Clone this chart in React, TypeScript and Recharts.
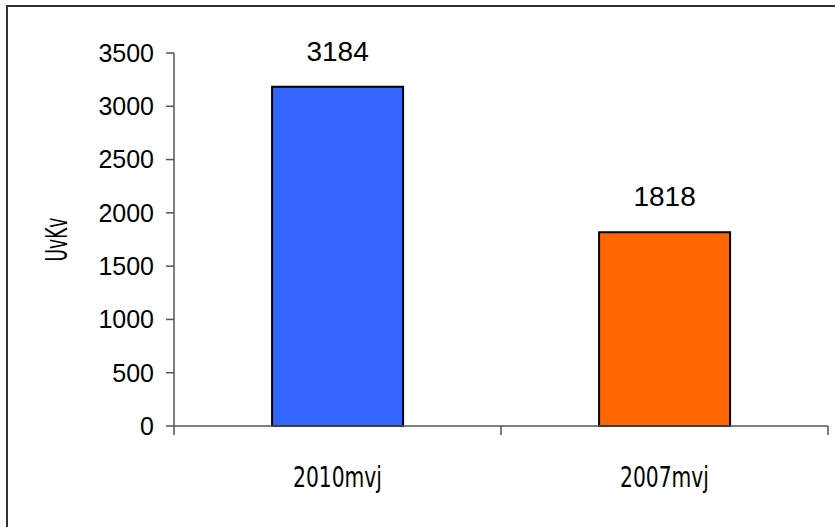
import React from "react"
import { BarChart, Bar, XAxis, YAxis, Cell, LabelList, Label } from "recharts"

const categories = ["2010mvj", "2007mvj"]
const values = [3184, 1818]
const colors = ["#3366FF", "#FF6600"]
const yTicks = [0, 500, 1000, 1500, 2000, 2500, 3000, 3500]
const yTitle = "UvKv"

const data = categories.map((name, i) => ({ name, value: values[i] }))

const AXIS = "#555"

function XTick(props: any) {
  const { x, y, payload, index } = props
  const half = payload && payload.offset ? payload.offset : 163.5
  return (
    <g>
      <line x1={x + half} x2={x + half} y1={y} y2={y + 9} stroke={AXIS} strokeWidth={1.5} />
      {index === 0 && <line x1={x - half} x2={x - half} y1={y} y2={y + 9} stroke={AXIS} strokeWidth={1.5} />}
      <text
        x={x}
        y={y + 61}
        textAnchor="middle"
        fontFamily="'Liberation Sans Narrow', 'DejaVu Sans Condensed', sans-serif"
        fontSize={29}
        textLength={89}
        lengthAdjust="spacingAndGlyphs"
        fill="#000"
      >
        {payload.value}
      </text>
    </g>
  )
}

export default function App() {
  return (
    <div style={{ position: "fixed", left: 0, top: 0, width: 835, height: 527, overflow: "hidden", background: "#fff" }}>
      <div
        style={{
          position: "absolute",
          left: 6,
          top: 5,
          width: 900,
          height: 600,
          borderLeft: "2px solid #333",
          borderTop: "2px solid #333",
        }}
      />
      <div style={{ position: "absolute", left: 0, top: 0 }}>
        <BarChart
          width={835}
          height={527}
          data={data}
          margin={{ top: 53, right: 7, bottom: 0, left: 0 }}
          barCategoryGap="30%"
        >
          <YAxis
            width={174}
            domain={[0, 3500]}
            ticks={yTicks}
            interval={0}
            tickSize={8}
            tickMargin={12}
            axisLine={{ stroke: AXIS, strokeWidth: 1.5 }}
            tickLine={{ stroke: AXIS, strokeWidth: 1.5 }}
            tick={{ fill: "#000", fontSize: 25, fontFamily: "'Liberation Sans', Arial, sans-serif" }}
          >
            <Label
              content={({ viewBox }: any) => {
                const cx = viewBox.x + 67
                const cy = viewBox.y + viewBox.height / 2
                return (
                  <text
                    x={cx}
                    y={cy}
                    transform={`rotate(-90 ${cx} ${cy})`}
                    textAnchor="middle"
                    fontFamily="'Liberation Sans Narrow', 'DejaVu Sans Condensed', sans-serif"
                    fontSize={30}
                    textLength={44}
                    lengthAdjust="spacingAndGlyphs"
                    fill="#000"
                  >
                    {yTitle}
                  </text>
                )
              }}
            />
          </YAxis>
          <XAxis
            dataKey="name"
            height={101}
            interval={0}
            tickSize={0}
            tickMargin={0}
            tickLine={false}
            axisLine={{ stroke: AXIS, strokeWidth: 1.5 }}
            tick={<XTick />}
          />
          <Bar dataKey="value" stroke="#000" strokeWidth={2} isAnimationActive={false}>
            {data.map((d, i) => (
              <Cell key={d.name} fill={colors[i]} />
            ))}
            <LabelList
              dataKey="value"
              position="top"
              offset={26}
              fill="#000"
              fontSize={28}
              fontFamily="'Liberation Sans', Arial, sans-serif"
            />
          </Bar>
        </BarChart>
      </div>
    </div>
  )
}
